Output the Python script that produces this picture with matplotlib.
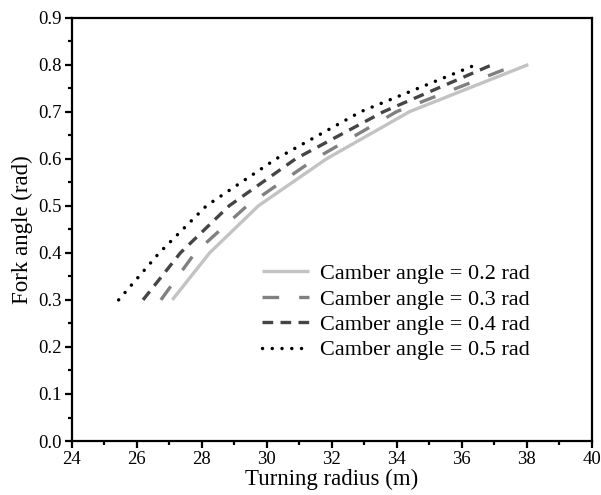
import numpy as np
import matplotlib
matplotlib.use('Agg')
import matplotlib.pyplot as plt
from matplotlib.ticker import MultipleLocator, FormatStrFormatter

plt.rcParams['font.family'] = ['Liberation Serif', 'DejaVu Serif']

#%% Data: fork angle vs turning radius for each camber angle
fork_angle = [0.3, 0.4, 0.5, 0.6, 0.7, 0.8]
r_cam02 = [27.10, 28.25, 29.75, 31.85, 34.40, 38.05]
r_cam03 = [26.75, 27.80, 29.40, 31.50, 34.00, 37.70]
r_cam04 = [26.20, 27.35, 28.85, 30.90, 33.60, 36.95]
r_cam05 = [25.45, 26.70, 28.15, 30.30, 32.90, 36.45]
camber = ['0.2', '0.3', '0.4', '0.5']

#%% Plot
fig = plt.figure(figsize=(6.01, 4.95), dpi=100)
ax = fig.add_axes([0.119, 0.109, 0.8655, 0.8556])

ax.plot(r_cam02, fork_angle, color='#c3c3c3', lw=2.4, solid_capstyle='butt',
        label='Camber angle = ' + camber[0] + ' rad')
ax.plot(r_cam03, fork_angle, color='#808080', lw=2.4, dashes=(5.0, 6.0),
        label='Camber angle = ' + camber[1] + ' rad')
ax.plot(r_cam04, fork_angle, color='#454545', lw=2.4, dashes=(3.2, 2.2),
        label='Camber angle = ' + camber[2] + ' rad')
ax.plot(r_cam05, fork_angle, color='black', lw=2.5, dashes=(0.01, 2.8),
        dash_capstyle='round', label='Camber angle = ' + camber[3] + ' rad')

ax.set_xlim(24, 40) ; ax.set_ylim(0, 0.9)
ax.xaxis.set_major_locator(MultipleLocator(2))
ax.xaxis.set_minor_locator(MultipleLocator(1))
ax.yaxis.set_major_locator(MultipleLocator(0.1))
ax.yaxis.set_minor_locator(MultipleLocator(0.05))
ax.yaxis.set_major_formatter(FormatStrFormatter('%.1f'))

for s in ax.spines.values():
    s.set_linewidth(1.6)
ax.tick_params(which='both', direction='out', width=1.6, labelsize=13.5,
               top=False, right=False)
ax.tick_params(which='major', length=5, pad=2)
ax.tick_params(which='minor', length=3)

ax.set_xlabel('Turning radius (m)', fontsize=16.5, labelpad=1)
ax.set_ylabel('Fork angle (rad)', fontsize=16.5, labelpad=4)

ax.legend(loc='upper left', bbox_to_anchor=(0.35, 0.44), frameon=False,
          fontsize=16, handlelength=2.1, handletextpad=0.5, labelspacing=0.22,
          borderaxespad=0)

plt.savefig('out.png', dpi=100)
